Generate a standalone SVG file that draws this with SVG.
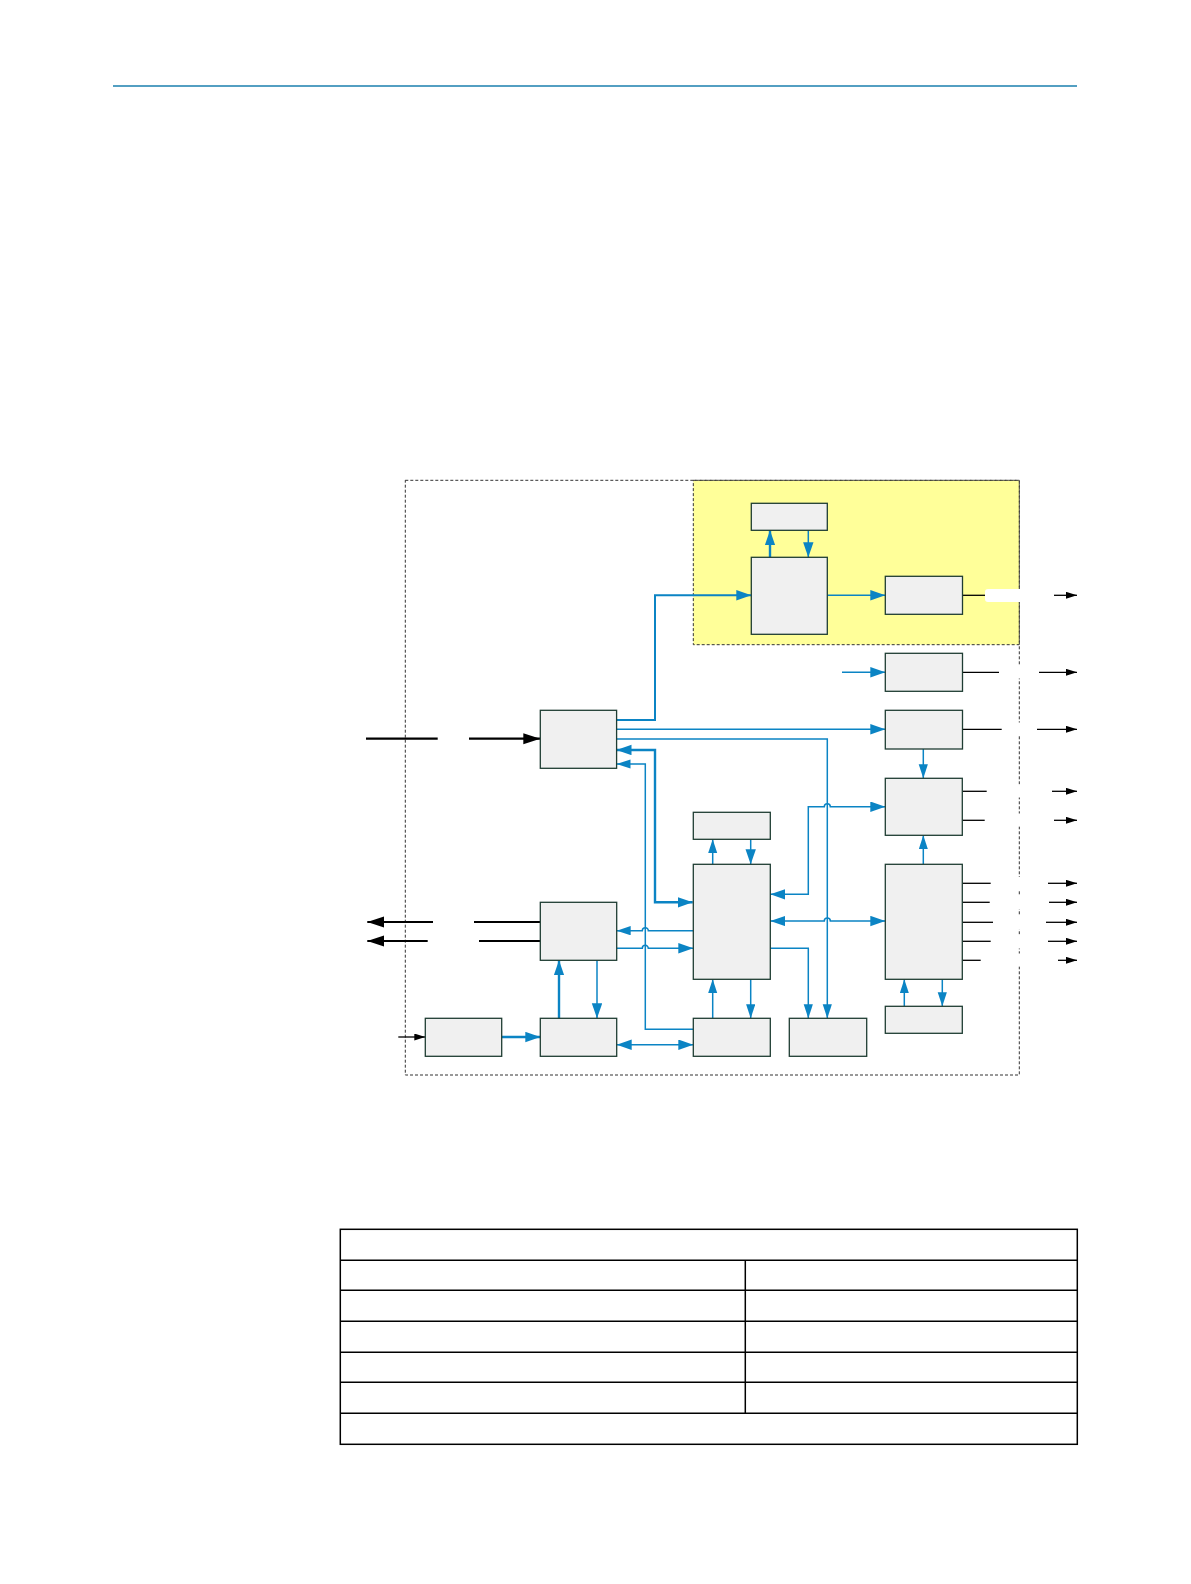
<svg xmlns="http://www.w3.org/2000/svg" width="1191" height="1584" viewBox="0 0 1191 1584">
<defs>
<style>
.bx{fill:#f0f0f0;stroke:#1f3d33;stroke-width:1.3}
.bl{fill:none;stroke:#0b84c4;stroke-width:1.5}
.blt{fill:none;stroke:#0b84c4;stroke-width:2.4}
.bk{fill:none;stroke:#000;stroke-width:1.3}
.bkt{fill:none;stroke:#000;stroke-width:2.2}
.dash{fill:none;stroke:#333;stroke-width:1;stroke-dasharray:3,2}
.tb{fill:none;stroke:#000;stroke-width:1.5}
.msk{fill:#fff}
</style>
<marker id="ab" markerUnits="userSpaceOnUse" markerWidth="15" markerHeight="10" refX="14" refY="4.6" orient="auto-start-reverse"><path d="M0,0 L14,4.6 L0,9.2 z" fill="#0b84c4"/></marker>
<marker id="abt" markerUnits="userSpaceOnUse" markerWidth="16" markerHeight="11" refX="15" refY="5.2" orient="auto-start-reverse"><path d="M0,0 L15,5.2 L0,10.4 z" fill="#0b84c4"/></marker>
<marker id="ak" markerUnits="userSpaceOnUse" markerWidth="12" markerHeight="8" refX="11" refY="3.5" orient="auto"><path d="M0,0 L11,3.5 L0,7 z" fill="#000"/></marker>
<marker id="akb" markerUnits="userSpaceOnUse" markerWidth="18" markerHeight="12" refX="17" refY="5.5" orient="auto"><path d="M0,0 L17,5.5 L0,11 z" fill="#000"/></marker>
</defs>
<rect width="1191" height="1584" fill="#fff"/>
<line x1="113" y1="86" x2="1077" y2="86" stroke="#1a7fae" stroke-width="1.3"/>

<g id="regions">
<rect x="693.3" y="480.3" width="326" height="164.4" class="dash" style="fill:#ffff99"/>
<rect x="405.3" y="480.3" width="614" height="594.7" class="dash"/>
</g>

<g id="label-masks">
<rect x="985" y="589" width="69" height="13" rx="3" class="msk"/>
<rect x="1000" y="665.5" width="38" height="13" class="msk"/>
<rect x="1002" y="722.5" width="34" height="13" class="msk"/>
<rect x="988" y="784.5" width="63" height="13" class="msk"/>
<rect x="986" y="813.5" width="67" height="13" class="msk"/>
<rect x="992" y="877" width="55" height="13" class="msk"/>
<rect x="991" y="896" width="57" height="13" class="msk"/>
<rect x="994" y="915.5" width="51" height="14" class="msk"/>
<rect x="992" y="934.5" width="55" height="14" class="msk"/>
<rect x="982" y="953.5" width="75" height="13" class="msk"/>
</g>

<g id="connectors">
<path class="bl" style="stroke-width:2" d="M616.5,720 H655 V595.3 H751.3" marker-end="url(#abt)"/>
<path class="bl" d="M827.3,595.3 H885.3" marker-end="url(#abt)"/>
<path class="blt" d="M770,557.3 V530.3" marker-end="url(#abt)"/>
<path class="bl" d="M808.3,530.3 V557.3" marker-end="url(#abt)"/>
<path class="bl" d="M842,672.3 H885.3" marker-end="url(#abt)"/>
<path class="bl" d="M616.5,729.3 H885.3" marker-end="url(#abt)"/>
<path class="bl" d="M616.5,739 H827.3 V1018.3" marker-end="url(#ab)"/>
<path class="blt" d="M692.7,902.3 H655 V750 H616.5" marker-start="url(#abt)" marker-end="url(#abt)"/>
<path class="bl" d="M693.3,1029.3 H645.3 V764 H616.5" marker-end="url(#ab)"/>
<path class="bl" d="M923.3,749 V778.3" marker-end="url(#ab)"/>
<path class="bl" d="M770.3,894.3 H808.3 V806.7 H824.3 a3,3 0 0 1 6,0 H885.3" marker-start="url(#abt)" marker-end="url(#abt)"/>
<path class="bl" d="M770.3,921 H824.3 a3,3 0 0 1 6,0 H885.3" marker-start="url(#abt)" marker-end="url(#abt)"/>
<path class="bl" d="M693.3,930.7 H648.3 a3,3 0 0 0 -6,0 H616.7" marker-end="url(#ab)"/>
<path class="bl" d="M616.7,948.3 H642.3 a3,3 0 0 1 6,0 H693.3" marker-end="url(#abt)"/>
<path class="bl" d="M770.3,948.3 H808.3 V1018.3" marker-end="url(#ab)"/>
<path class="bl" d="M712.7,864.3 V839.3" marker-end="url(#ab)"/>
<path class="bl" d="M750.7,839.3 V864.3" marker-end="url(#abt)"/>
<path class="bl" d="M712.7,1018.3 V979.3" marker-end="url(#ab)"/>
<path class="bl" d="M750.7,979.3 V1018.3" marker-end="url(#ab)"/>
<path class="bl" d="M616.7,1044.7 H693.3" marker-start="url(#abt)" marker-end="url(#abt)"/>
<path class="bl" d="M923.3,864.3 V835.3" marker-end="url(#ab)"/>
<path class="bl" d="M904.3,1006.3 V979.3" marker-end="url(#ab)"/>
<path class="bl" d="M942.3,979.3 V1006.3" marker-end="url(#ab)"/>
<path class="blt" d="M501.7,1037 H540.3" marker-end="url(#abt)"/>
<path class="blt" d="M559,1018.3 V960.3" marker-end="url(#abt)"/>
<path class="bl" d="M597,960.3 V1018.3" marker-end="url(#abt)"/>

<path class="bkt" d="M366,738.7 H437.7"/>
<path class="bkt" d="M469,738.7 H540.3" marker-end="url(#akb)"/>
<path class="bkt" d="M433,922 H367.3" marker-end="url(#akb)"/>
<path class="bkt" d="M540.3,922 H474"/>
<path class="bkt" d="M427.7,941 H367.3" marker-end="url(#akb)"/>
<path class="bkt" d="M540.3,941 H479"/>
<path class="bk" d="M398.3,1037 H425.3" marker-end="url(#ak)"/>

<path class="bk" d="M962.7,595.3 H985"/>
<path class="bk" d="M1054,595.3 H1077" marker-end="url(#ak)"/>
<path class="bk" d="M962.7,672.3 H999"/>
<path class="bk" d="M1039,672.3 H1077" marker-end="url(#ak)"/>
<path class="bk" d="M962.7,729.3 H1001.7"/>
<path class="bk" d="M1037,729.3 H1077" marker-end="url(#ak)"/>
<path class="bk" d="M962.3,791.3 H986.7"/>
<path class="bk" d="M1052,791.3 H1077" marker-end="url(#ak)"/>
<path class="bk" d="M962.3,820.3 H984.7"/>
<path class="bk" d="M1054,820.3 H1077" marker-end="url(#ak)"/>
<path class="bk" d="M962.3,883.3 H990.7"/>
<path class="bk" d="M1048,883.3 H1077" marker-end="url(#ak)"/>
<path class="bk" d="M962.3,902.3 H989.7"/>
<path class="bk" d="M1049,902.3 H1077" marker-end="url(#ak)"/>
<path class="bk" d="M962.3,922.3 H993"/>
<path class="bk" d="M1046,922.3 H1077" marker-end="url(#ak)"/>
<path class="bk" d="M962.3,941.3 H990.7"/>
<path class="bk" d="M1048,941.3 H1077" marker-end="url(#ak)"/>
<path class="bk" d="M962.3,960.3 H980.7"/>
<path class="bk" d="M1058,960.3 H1077" marker-end="url(#ak)"/>
</g>

<g id="nodeA"><rect class="bx" x="540.3" y="710.3" width="76.3" height="58"/></g>
<g id="nodeB"><rect class="bx" x="751.3" y="557.3" width="76" height="77"/></g>
<g id="nodeBtop"><rect class="bx" x="751.3" y="503.3" width="76" height="27"/></g>
<g id="nodeC"><rect class="bx" x="885.3" y="576.3" width="77.2" height="38"/></g>
<g id="nodeD"><rect class="bx" x="885.3" y="653.3" width="77.2" height="38"/></g>
<g id="nodeE"><rect class="bx" x="885.3" y="710.3" width="77.2" height="38.7"/></g>
<g id="nodeH"><rect class="bx" x="885.3" y="778.3" width="77" height="57"/></g>
<g id="nodeK"><rect class="bx" x="885.3" y="864.3" width="77" height="115"/></g>
<g id="nodeN"><rect class="bx" x="885.3" y="1006.3" width="77" height="27"/></g>
<g id="nodeG"><rect class="bx" x="693.3" y="812.3" width="77" height="27"/></g>
<g id="nodeF"><rect class="bx" x="693.3" y="864.3" width="77" height="115"/></g>
<g id="nodeJ"><rect class="bx" x="693.3" y="1018.3" width="77" height="38"/></g>
<g id="nodeI"><rect class="bx" x="789.3" y="1018.3" width="77.4" height="38"/></g>
<g id="nodeL"><rect class="bx" x="540.3" y="902.3" width="76.4" height="58"/></g>
<g id="nodeM"><rect class="bx" x="540.3" y="1018.3" width="76.4" height="38"/></g>
<g id="nodeP"><rect class="bx" x="425.3" y="1018.3" width="76.4" height="38"/></g>

<g id="table">
<rect class="tb" x="340.3" y="1229.3" width="737" height="215"/>
<path class="tb" d="M340.3,1260.3 H1077.3 M340.3,1290.3 H1077.3 M340.3,1321.3 H1077.3 M340.3,1352.3 H1077.3 M340.3,1382.3 H1077.3 M340.3,1413.3 H1077.3 M745.3,1260.3 V1413.3"/>
</g>
</svg>
